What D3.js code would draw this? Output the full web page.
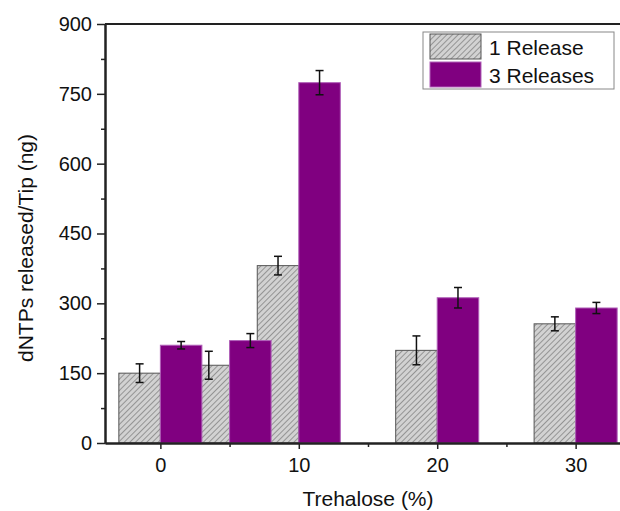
<!DOCTYPE html>
<html>
<head>
<meta charset="utf-8">
<script src="https://cdn.jsdelivr.net/npm/d3@7"></script>
<style>
body { margin: 0; background: #fff; }
text { font-family: "Liberation Sans", Arial, sans-serif; fill: #111; }
</style>
</head>
<body>
<svg id="chart" width="620" height="511"></svg>
<script>
var trehalose   = [0, 5, 10, 20, 30];
var release1    = [150, 167, 381, 199, 256];
var release1Err = [20, 30, 20, 31, 15];
var release3    = [210, 220, 774, 312, 290];
var release3Err = [8, 15, 26, 22, 12];
var xTicks = [0, 10, 20, 30];
var yTicks = [0, 150, 300, 450, 600, 750, 900];
var seriesNames = ["1 Release", "3 Releases"];

var svg = d3.select('#chart');
var pLeft = 105, pTop = 24, pBottom = 443, pRight = 631;

var x = d3.scaleLinear().domain([-4, 34]).range([pLeft, pRight]);
var y = d3.scaleLinear().domain([0, 900]).range([pBottom, pTop]);
var barW = 3; // bar width in x units

// hatch pattern for gray bars
var defs = svg.append("defs");
var pat = defs.append("pattern")
	.attr("id", "hatch")
	.attr("patternUnits", "userSpaceOnUse")
	.attr("width", 4)
	.attr("height", 4)
	.attr("patternTransform", "rotate(45)");
pat.append("rect").attr("width", 4).attr("height", 4).attr("fill", "#d2d2d2");
pat.append("line")
	.attr("x1", 0).attr("y1", 0).attr("x2", 0).attr("y2", 4)
	.attr("stroke", "#7a7a7a").attr("stroke-width", 1.4);

var grayBars = trehalose.map(function(t, i){ return {x0: t - barW, v: release1[i], e: release1Err[i]}; });
var purpleBars = trehalose.map(function(t, i){ return {x0: t, v: release3[i], e: release3Err[i]}; });

svg.selectAll("rect.g")
	.data(grayBars)
	.enter()
	.append("rect")
	.attr("class", "g")
	.attr("x", function(d){ return x(d.x0); })
	.attr("y", function(d){ return y(d.v); })
	.attr("width", function(d){ return x(d.x0 + barW) - x(d.x0); })
	.attr("height", function(d){ return y(0) - y(d.v); })
	.attr("fill", "url(#hatch)")
	.attr("stroke", "#555")
	.attr("stroke-width", 1);

svg.selectAll("rect.p")
	.data(purpleBars)
	.enter()
	.append("rect")
	.attr("class", "p")
	.attr("x", function(d){ return x(d.x0); })
	.attr("y", function(d){ return y(d.v); })
	.attr("width", function(d){ return x(d.x0 + barW) - x(d.x0); })
	.attr("height", function(d){ return y(0) - y(d.v); })
	.attr("fill", "#800080")
	.attr("stroke", "#b060b8")
	.attr("stroke-width", 1);

// error bars
var errs = grayBars.concat(purpleBars);
var eb = svg.selectAll("g.err")
	.data(errs)
	.enter()
	.append("g")
	.attr("class", "err")
	.attr("stroke", "#111")
	.attr("stroke-width", 1.5);
eb.append("line")
	.attr("x1", function(d){ return x(d.x0 + barW / 2); })
	.attr("x2", function(d){ return x(d.x0 + barW / 2); })
	.attr("y1", function(d){ return y(d.v - d.e); })
	.attr("y2", function(d){ return y(d.v + d.e); });
eb.append("line")
	.attr("x1", function(d){ return x(d.x0 + barW / 2) - 4; })
	.attr("x2", function(d){ return x(d.x0 + barW / 2) + 4; })
	.attr("y1", function(d){ return y(d.v + d.e); })
	.attr("y2", function(d){ return y(d.v + d.e); });
eb.append("line")
	.attr("x1", function(d){ return x(d.x0 + barW / 2) - 4; })
	.attr("x2", function(d){ return x(d.x0 + barW / 2) + 4; })
	.attr("y1", function(d){ return y(d.v - d.e); })
	.attr("y2", function(d){ return y(d.v - d.e); });

// axes
var xAxis = svg.append("g")
	.attr("transform", "translate(0," + pBottom + ")")
	.call(d3.axisBottom(x).tickValues(xTicks).tickSize(6).tickPadding(9).tickSizeOuter(0));
var xMinor = svg.append("g")
	.attr("transform", "translate(0," + pBottom + ")")
	.call(d3.axisBottom(x).tickValues([5, 15, 25]).tickSize(4).tickFormat("").tickSizeOuter(0));
var yAxis = svg.append("g")
	.attr("transform", "translate(" + pLeft + ",0)")
	.call(d3.axisLeft(y).tickValues(yTicks).tickSize(8).tickPadding(5).tickSizeOuter(0));
var yMinor = svg.append("g")
	.attr("transform", "translate(" + pLeft + ",0)")
	.call(d3.axisLeft(y).tickValues([75, 225, 375, 525, 675, 825]).tickSize(4).tickFormat("").tickSizeOuter(0));

[xAxis, xMinor, yAxis, yMinor].forEach(function(a){
	a.select(".domain").attr("stroke", "#222").attr("stroke-width", 2);
	a.selectAll(".tick line").attr("stroke", "#222").attr("stroke-width", 1.5);
	a.selectAll(".tick text").style("font-size", "20px").style("font-family", "Liberation Sans, Arial, sans-serif").attr("fill", "#111");
});

// top frame line
svg.append("line")
	.attr("x1", pLeft).attr("x2", pRight)
	.attr("y1", pTop).attr("y2", pTop)
	.attr("stroke", "#222").attr("stroke-width", 2);

// axis titles
svg.append("text")
	.attr("x", 368)
	.attr("y", 506)
	.attr("text-anchor", "middle")
	.style("font-size", "21px")
	.text("Trehalose (%)");
svg.append("text")
	.attr("transform", "translate(33,248) rotate(-90)")
	.attr("text-anchor", "middle")
	.style("font-size", "21px")
	.text("dNTPs released/Tip (ng)");

// legend
var lg = svg.append("g");
lg.append("rect")
	.attr("x", 423).attr("y", 32).attr("width", 191).attr("height", 57)
	.attr("fill", "#fff").attr("stroke", "#888").attr("stroke-width", 1);
var fills = ["url(#hatch)", "#800080"];
var strokes = ["#555", "#b060b8"];
seriesNames.forEach(function(name, i){
	lg.append("rect")
		.attr("x", 430).attr("y", 34 + i * 28).attr("width", 51).attr("height", 25)
		.attr("fill", fills[i]).attr("stroke", strokes[i]);
	lg.append("text")
		.attr("x", 489).attr("y", 55 + i * 28)
		.style("font-size", "21px")
		.text(name);
});
</script>
</body>
</html>
